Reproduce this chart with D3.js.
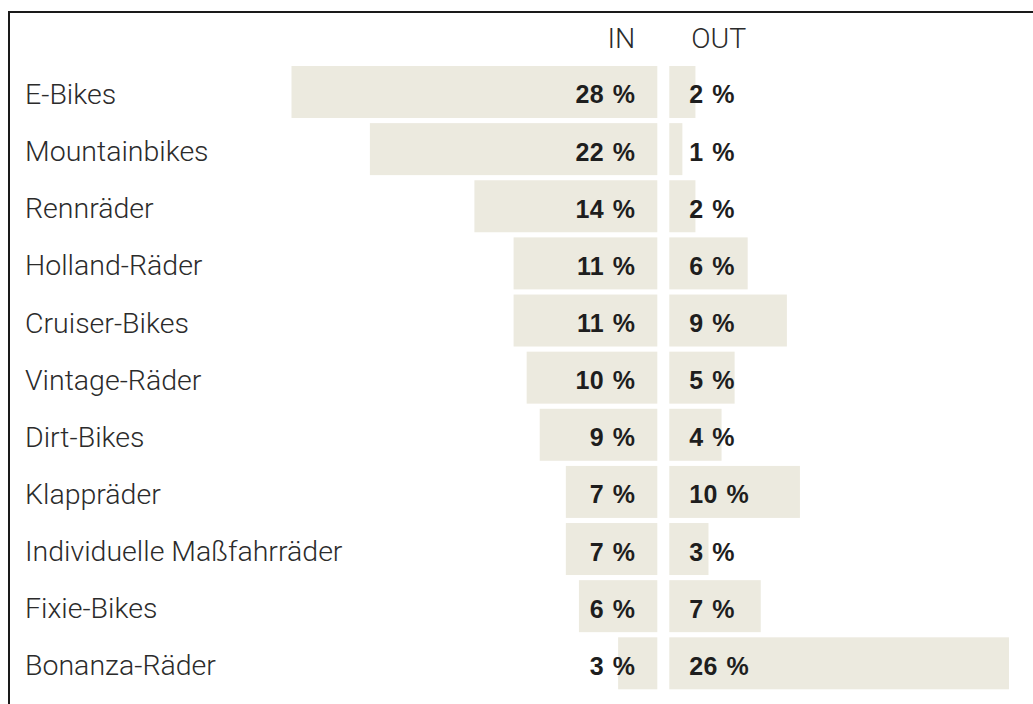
<!DOCTYPE html>
<html lang="de">
<head>
  <meta charset="UTF-8" />
  <title>IN / OUT Fahrräder</title>
  <script src="https://d3js.org/d3.v7.min.js"></script>
  <style>
    body {
      margin: 0;
      background: #fff;
    }

    svg {
      display: block;
    }

    .cat,
    .head {
      font-family: "Roboto", "Liberation Sans", sans-serif;
      font-weight: 300;
      font-size: 28.5px;
      fill: #2b2b2b;
    }

    .val {
      font-family: "Liberation Sans", Arial, sans-serif;
      font-weight: bold;
      font-size: 25px;
      word-spacing: 1.5px;
      letter-spacing: 0.3px;
      fill: #1e1e1e;
    }
  </style>
</head>
<body>
  <svg id="chart" width="1033" height="704"></svg>

  <script>
    const categories = [
      "E-Bikes",
      "Mountainbikes",
      "Rennräder",
      "Holland-Räder",
      "Cruiser-Bikes",
      "Vintage-Räder",
      "Dirt-Bikes",
      "Klappräder",
      "Individuelle Maßfahrräder",
      "Fixie-Bikes",
      "Bonanza-Räder"
    ];
    const inValues = [28, 22, 14, 11, 11, 10, 9, 7, 7, 6, 3];
    const outValues = [2, 1, 2, 6, 9, 5, 4, 10, 3, 7, 26];
    const headers = ["IN", "OUT"];

    const barColor = "#eceadf";

    const svg = d3.select("#chart");

    // frame: only top and left edges are visible
    svg.append("path")
      .attr("d", "M9,704V12H1033")
      .attr("fill", "none")
      .attr("stroke", "#1a1a1a")
      .attr("stroke-width", 2);

    const y = d3.scaleBand()
      .domain(categories)
      .range([66, 689.3])
      .paddingInner(0.09)
      .paddingOuter(0);

    const xIn = d3.scaleLinear().domain([0, 28]).range([657.3, 291.5]);
    const xOut = d3.scaleLinear().domain([0, 28]).range([669.3, 1035.1]);

    const rows = categories.map((c, i) => ({ cat: c, inV: inValues[i], outV: outValues[i] }));

    // IN bars
    svg.append("g")
      .selectAll("rect")
      .data(rows)
      .join("rect")
      .attr("x", d => xIn(d.inV))
      .attr("y", d => y(d.cat))
      .attr("width", d => xIn(0) - xIn(d.inV))
      .attr("height", y.bandwidth())
      .attr("fill", barColor);

    // OUT bars
    svg.append("g")
      .selectAll("rect")
      .data(rows)
      .join("rect")
      .attr("x", xOut(0))
      .attr("y", d => y(d.cat))
      .attr("width", d => xOut(d.outV) - xOut(0))
      .attr("height", y.bandwidth())
      .attr("fill", barColor);

    const mid = y.bandwidth() / 2;

    // category labels
    svg.append("g")
      .selectAll("text")
      .data(rows)
      .join("text")
      .attr("class", "cat")
      .attr("x", 25)
      .attr("y", d => y(d.cat) + mid + 12)
      .text(d => d.cat);

    // IN values
    svg.append("g")
      .selectAll("text")
      .data(rows)
      .join("text")
      .attr("class", "val")
      .attr("text-anchor", "end")
      .attr("x", xIn(0) - 22)
      .attr("y", d => y(d.cat) + mid + 11.5)
      .text(d => d.inV + " %");

    // OUT values
    svg.append("g")
      .selectAll("text")
      .data(rows)
      .join("text")
      .attr("class", "val")
      .attr("x", xOut(0) + 20)
      .attr("y", d => y(d.cat) + mid + 11.5)
      .text(d => d.outV + " %");

    // column headers
    svg.append("text")
      .attr("class", "head")
      .attr("text-anchor", "end")
      .attr("x", xIn(0) - 22)
      .attr("y", 47.5)
      .text(headers[0]);

    svg.append("text")
      .attr("class", "head")
      .attr("x", xOut(0) + 22)
      .attr("y", 47.5)
      .text(headers[1]);
  </script>
</body>
</html>
